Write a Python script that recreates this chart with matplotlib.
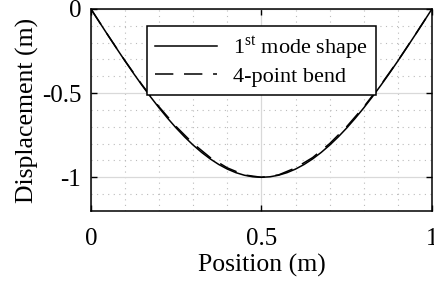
import matplotlib
matplotlib.use('Agg')
import matplotlib.pyplot as plt
from matplotlib.ticker import MultipleLocator

plt.rcParams['font.family'] = ['Liberation Serif', 'DejaVu Serif']
plt.rcParams['mathtext.fontset'] = 'custom'
plt.rcParams['mathtext.rm'] = 'Liberation Serif'

# 1st mode shape (solid)
x_mode = [0, 0.025, 0.05, 0.075, 0.1, 0.125, 0.15, 0.175, 0.2, 0.225, 0.25,
          0.275, 0.3, 0.325, 0.35, 0.375, 0.4, 0.425, 0.45, 0.475, 0.5,
          0.525, 0.55, 0.575, 0.6, 0.625, 0.65, 0.675, 0.7, 0.725, 0.75,
          0.775, 0.8, 0.825, 0.85, 0.875, 0.9, 0.925, 0.95, 0.975, 1]
y_mode = [0, -0.0785, -0.1564, -0.2334, -0.3090, -0.3827, -0.4540, -0.5225,
          -0.5878, -0.6494, -0.7071, -0.7604, -0.8090, -0.8526, -0.8910,
          -0.9239, -0.9511, -0.9724, -0.9877, -0.9969, -1.0,
          -0.9969, -0.9877, -0.9724, -0.9511, -0.9239, -0.8910, -0.8526,
          -0.8090, -0.7604, -0.7071, -0.6494, -0.5878, -0.5225, -0.4540,
          -0.3827, -0.3090, -0.2334, -0.1564, -0.0785, 0]

# 4-point bend (dashed)
x_bend = [0, 0.05, 0.1, 0.15, 0.2, 0.25, 0.3, 0.35, 0.4, 0.45, 0.5,
          0.55, 0.6, 0.65, 0.7, 0.75, 0.8, 0.85, 0.9, 0.95, 1]
y_bend = [0, -0.1560, -0.3080, -0.4510, -0.5820, -0.6990, -0.8000, -0.8830,
          -0.9440, -0.9860, -1.0, -0.9860, -0.9440, -0.8830, -0.8000,
          -0.6990, -0.5820, -0.4510, -0.3080, -0.1560, 0]

fig = plt.figure(figsize=(4.35, 2.89), dpi=100)
ax = fig.add_axes([0.209, 0.270, 0.784, 0.699])

ax.plot(x_mode, y_mode, 'k-', lw=1.1, label='1$^{\\mathrm{st}}$ mode shape')
ax.plot(x_bend, y_bend, 'k--', lw=1.1, dashes=(12, 7), label='4-point bend')

ax.set_xlim(0, 1)
ax.set_ylim(-1.2, 0)
ax.set_xticks([0, 0.5, 1])
ax.set_xticklabels(['0', '0.5', '1'])
ax.set_yticks([-1, -0.5, 0])
ax.set_yticklabels(['-1', '-0.5', '0'])
ax.xaxis.set_minor_locator(MultipleLocator(0.1))
ax.yaxis.set_minor_locator(MultipleLocator(0.1))

ax.grid(which='major', color='#d9d9d9', lw=0.9, ls='-')
ax.grid(which='minor', color='#bbbbbb', lw=0.8, ls=(0, (1, 4)))
ax.set_axisbelow(True)

ax.tick_params(which='major', direction='in', top=True, right=True,
               length=4, width=1, labelsize=18)
ax.tick_params(axis='x', which='major', pad=12)
ax.tick_params(axis='y', which='major', pad=7)
ax.tick_params(which='minor', length=0)
for s in ax.spines.values():
    s.set_linewidth(1.1)

ax.set_xlabel('Position (m)', fontsize=18.5, labelpad=3)
ax.set_ylabel('Displacement (m)', fontsize=18.5, labelpad=2)

leg = ax.legend(loc='upper center', bbox_to_anchor=(0.5, 0.915), fontsize=16,
                fancybox=False, framealpha=1, edgecolor='k',
                handlelength=2.8, borderpad=0.35, labelspacing=0.2,
                handletextpad=0.75, borderaxespad=0)
leg.get_frame().set_linewidth(1.1)

fig.savefig('out.png', dpi=100)
